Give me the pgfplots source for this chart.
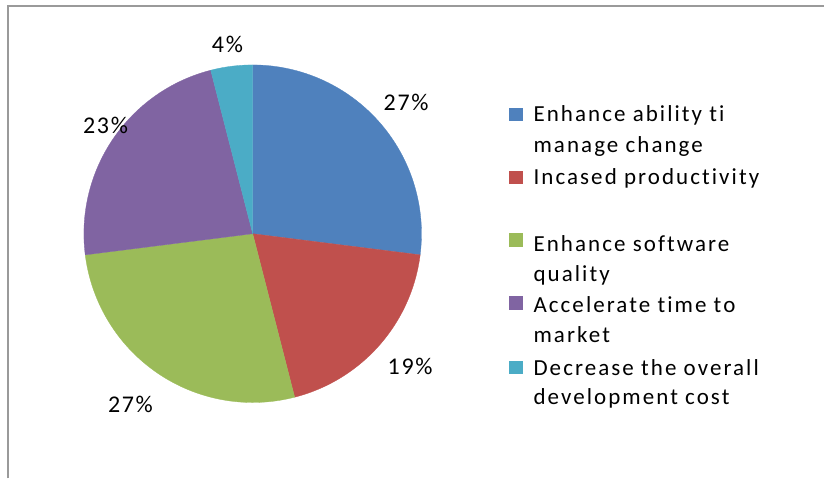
\documentclass[border=0pt]{standalone}
\usepackage{pgfplots}
\pgfplotsset{compat=1.18}
\usepackage{fontspec}
\setmainfont[Ligatures=NoCommon]{Carlito}
\newfontfamily\spacedfont[LetterSpace=7, Ligatures=NoCommon]{Carlito}
\newfontfamily\legendfont[LetterSpace=9, Ligatures=NoCommon]{Carlito}
\definecolor{cblue}{HTML}{4F81BD}
\definecolor{cred}{HTML}{C0504D}
\definecolor{cgreen}{HTML}{9BBB59}
\definecolor{cpurple}{HTML}{8064A2}
\definecolor{ccyan}{HTML}{4BACC6}
\definecolor{frame}{HTML}{9A9A9A}
% slice: start angle, percentage, colour (pie centre 253,234, radius 169, in pixels)
\newcommand{\slice}[3]{%
  \addplot[fill=#3, draw=#3, line width=0.3pt, domain={#1}:{#1-3.6*#2}, samples=80, variable=\t]
    ({253+169*cos(\t)},{234-169*sin(\t)}) -- (axis cs:253,234) -- cycle;}
\begin{document}
\begin{tikzpicture}
\begin{axis}[
  width=825bp, height=479bp, scale only axis,
  xmin=0, xmax=825, ymin=0, ymax=479, y dir=reverse,
  axis lines=none, clip=false,
]
\path (axis cs:0,0) rectangle (axis cs:825,479);
% percentages: 27, 19, 27, 23, 4
\slice{90}{27}{cblue}
\slice{-7.2}{19}{cred}
\slice{-75.6}{27}{cgreen}
\slice{-172.8}{23}{cpurple}
\slice{-255.6}{4}{ccyan}
\draw[frame, line width=2bp] (axis cs:8.5,479) -- (axis cs:8.5,6) -- (axis cs:825,6);
% data labels
\begin{scope}[every node/.style={font=\spacedfont\fontsize{24bp}{28bp}\selectfont, anchor=base west, inner sep=0pt}]
\node at (axis cs:384,111) {27\%};
\node at (axis cs:388,375) {19\%};
\node at (axis cs:108,413) {27\%};
\node at (axis cs:83,134) {23\%};
\node at (axis cs:212,53) {4\%};
\end{scope}
% legend
\fill[cblue] (axis cs:510,108) rectangle (axis cs:524,121);
\fill[cred] (axis cs:510,171) rectangle (axis cs:524,184);
\fill[cgreen] (axis cs:510,233) rectangle (axis cs:524,247);
\fill[cpurple] (axis cs:510,296) rectangle (axis cs:524,310);
\fill[ccyan] (axis cs:510,361) rectangle (axis cs:524,374);
\begin{scope}[every node/.style={font=\legendfont\fontsize{23bp}{27bp}\selectfont, anchor=base west, inner sep=0pt}]
\node at (axis cs:534,122) {Enhance ability ti};
\node at (axis cs:534,153) {manage change};
\node at (axis cs:534,185) {Incased productivity};
\node at (axis cs:534,252) {Enhance software};
\node at (axis cs:534,282) {quality};
\node at (axis cs:534,313) {Accelerate time to};
\node at (axis cs:534,343) {market};
\node at (axis cs:534,376) {Decrease the overall};
\node at (axis cs:534,405) {development cost};
\end{scope}
\end{axis}
\end{tikzpicture}
\end{document}
